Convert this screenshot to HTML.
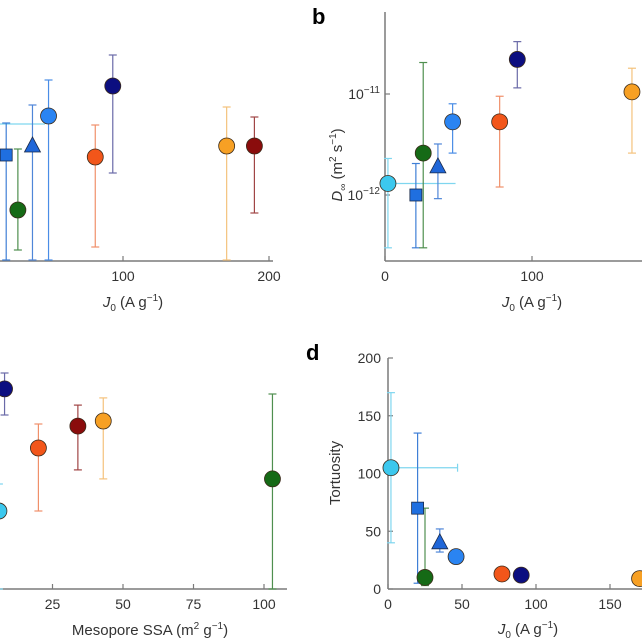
<!DOCTYPE html>
<html><head><meta charset="utf-8"><style>
html,body{margin:0;padding:0;background:#fff;}
svg{display:block;font-family:"Liberation Sans",sans-serif;}
.tk{font-size:14px;fill:#333;}
.lbl{font-size:15px;fill:#333;}
.pl{font-size:22px;font-weight:bold;fill:#000;}
</style></head><body>
<svg id="fig" width="642" height="642" viewBox="0 0 642 642">
<text class="pl" x="312" y="24">b</text>
<text class="pl" x="306" y="360">d</text>
<text class="lbl" x="133" y="307" text-anchor="middle"><tspan font-style="italic">J</tspan><tspan font-size="10" dy="4">0</tspan><tspan dy="-4"> (A g</tspan><tspan font-size="10" dy="-6">−1</tspan><tspan dy="6">)</tspan></text>
<text class="lbl" x="532" y="307" text-anchor="middle"><tspan font-style="italic">J</tspan><tspan font-size="10" dy="4">0</tspan><tspan dy="-4"> (A g</tspan><tspan font-size="10" dy="-6">−1</tspan><tspan dy="6">)</tspan></text>
<text class="lbl" transform="translate(342,165) rotate(-90)" text-anchor="middle"><tspan font-style="italic">D</tspan><tspan font-size="10" dy="4">∞</tspan><tspan dy="-4"> (m</tspan><tspan font-size="10" dy="-6">2</tspan><tspan dy="6"> s</tspan><tspan font-size="10" dy="-6">−1</tspan><tspan dy="6">)</tspan></text>
<text class="lbl" x="150" y="635" text-anchor="middle">Mesopore SSA (m<tspan font-size="10" dy="-6">2</tspan><tspan dy="6"> g</tspan><tspan font-size="10" dy="-6">−1</tspan><tspan dy="6">)</tspan></text>
<text class="lbl" transform="translate(340,473) rotate(-90)" text-anchor="middle">Tortuosity</text>
<text class="lbl" x="528" y="634" text-anchor="middle"><tspan font-style="italic">J</tspan><tspan font-size="10" dy="4">0</tspan><tspan dy="-4"> (A g</tspan><tspan font-size="10" dy="-6">−1</tspan><tspan dy="6">)</tspan></text>
</svg>
<script>
// Panel a (J0 vs unlabeled y, linear in relative units)
const aX=[20,28,38,49,81,93,171,190];
const aY=[53,25.5,57.5,72.5,52,87.5,57.5,57.5];
const aLo=[0.5,5.5,0.5,0.5,7,44,0.5,24];
const aHi=[69,56,78,90.5,68,103,77,72];
const aShape=['square','circle','triangle','circle','circle','circle','circle','circle'];
const aCol=[1,4,2,3,5,6,7,8];
const aXTicks=[100,200];
// Panel b (J0 vs D, log)
const bX=[2,21,26,36,46,78,90,168];
const bY=[1.3e-12,1.0e-12,2.6e-12,1.9e-12,5.3e-12,5.3e-12,2.2e-11,1.05e-11];
const bLo=[3e-13,3e-13,3e-13,0.92e-12,2.6e-12,1.2e-12,1.15e-11,2.6e-12];
const bHi=[2.3e-12,2.05e-12,2.05e-11,3.2e-12,8e-12,9.5e-12,3.3e-11,1.8e-11];
const bXErr=[48,0,0,0,0,0,0,0];
const bShape=['circle','square','circle','triangle','circle','circle','circle','circle'];
const bCol=[0,1,4,2,3,5,6,7];
const bXTicks=[0,100];
const bYTicks=[-12,-11];
// Panel c (Mesopore SSA vs y)
const cX=[8,6,20,34,43,103];
const cY=[66.7,26,47,54.3,56,36.7];
const cLo=[58,0,26,39.7,36.7,0];
const cHi=[72,35,55,61.3,63.7,65];
const cCol=[6,0,5,8,7,4];
const cXTicks=[25,50,75,100];
// Panel d (J0 vs tortuosity)
const dX=[2,20,25,35,46,77,90,170];
const dY=[105,70,10,40,28,13,12,9];
const dLo=[40,5,3,32,28,13,12,9];
const dHi=[170,135,70,52,28,13,12,9];
const dXErr=[47,0,0,0,0,0,0,0];
const dShape=['circle','square','circle','triangle','circle','circle','circle','circle'];
const dCol=[0,1,4,2,3,5,6,7];
const dXTicks=[0,50,100,150];
const dYTicks=[0,50,100,150,200];

const fill=['#3cc8ee','#1f6fe0','#1f66d8','#2a84f2','#156a16','#f2561a','#0c0e80','#f7a024','#8a0c0c'];
const err=['#7fd6ef','#3f7fd6','#4f86d8','#4a8de6','#4f8f4f','#f0906a','#6a6aa8','#f4c27c','#a04545'];
const svg=document.getElementById('fig');
const NS='http://www.w3.org/2000/svg';
function mk(tag,attrs,name,parent){const e=document.createElementNS(NS,tag);for(const k in attrs)e.setAttribute(k,attrs[k]);


(parent||svg).appendChild(e);return e;}
function line(x1,y1,x2,y2,c,name,w){return mk('line',{x1,y1,x2,y2,stroke:c,'stroke-width':w||1.2},name);}
function marker(shape,x,y,ci,name){
 if(shape==='circle')mk('circle',{cx:x,cy:y,r:8,fill:fill[ci],stroke:'#3a2a1a','stroke-width':0.8},name);
 else if(shape==='square')mk('rect',{x:x-6,y:y-6,width:12,height:12,fill:fill[ci],stroke:'#1a2a4a','stroke-width':0.8},name);
 else mk('polygon',{points:`${x},${y-9} ${x+8},${y+6} ${x-8},${y+6}`,fill:fill[ci],stroke:'#1a2a4a','stroke-width':0.8},name);
}
function ebar(x,y1,y2,c,name){if(Math.abs(y2-y1)<2)return;line(x,y1,x,y2,c,name);line(x-4,y1,x+4,y1,c,name+'-cap');line(x-4,y2,x+4,y2,c,name+'-cap');}
const AX='#7a7a7a';
// Panel a
const axA=v=>-23+v*1.46, ayA=v=>261-v*2;
line(0,261,273,261,AX,'panel-a-x-axis',1.5);
aXTicks.forEach(t=>{line(axA(t),256,axA(t),261,AX,'panel-a-x-tick');const tx=mk('text',{x:axA(t),y:281,'text-anchor':'middle',class:'tk'},'panel-a-x-tick-label');tx.textContent=t;});
line(0,124,45,124,err[0],'panel-a-cyan-x-errorbar');
aX.forEach((v,i)=>{ebar(axA(v),ayA(aLo[i]),ayA(aHi[i]),err[aCol[i]],'panel-a-errorbar');});
aX.forEach((v,i)=>marker(aShape[i],axA(v),ayA(aY[i]),aCol[i],'panel-a-point'));
// Panel b
const axB=v=>385+v*1.47, ayB=v=>195-(Math.log10(v)+12)*101;
line(385,12,385,261,AX,'panel-b-y-axis',1.5);line(385,261,642,261,AX,'panel-b-x-axis',1.5);
bXTicks.forEach(t=>{line(axB(t),256,axB(t),261,AX,'panel-b-x-tick');const tx=mk('text',{x:axB(t),y:281,'text-anchor':'middle',class:'tk'},'panel-b-x-tick-label');tx.textContent=t;});
bYTicks.forEach(t=>{const y=195-(t+12)*101;line(385,y,390,y,AX,'panel-b-y-tick');const tx=mk('text',{x:380,y:y+5,'text-anchor':'end',class:'tk'},'panel-b-y-tick-label');tx.textContent='10';const s=document.createElementNS(NS,'tspan');s.setAttribute('font-size','10');s.setAttribute('dy','-6');s.textContent='−'+Math.abs(t);tx.appendChild(s);});
bX.forEach((v,i)=>{if(bXErr[i])line(axB(v),ayB(bY[i]),axB(bXErr[i]),ayB(bY[i]),err[bCol[i]],'panel-b-x-errorbar');ebar(axB(v),Math.min(261,ayB(bLo[i])),ayB(bHi[i]),err[bCol[i]],'panel-b-errorbar');});
bX.forEach((v,i)=>marker(bShape[i],axB(v),ayB(bY[i]),bCol[i],'panel-b-point'));
// Panel c
const axC=v=>-18+v*2.82, ayC=v=>589-v*3;
line(0,589,287,589,AX,'panel-c-x-axis',1.5);
cXTicks.forEach(t=>{line(axC(t),584,axC(t),589,AX,'panel-c-x-tick');const tx=mk('text',{x:axC(t),y:609,'text-anchor':'middle',class:'tk'},'panel-c-x-tick-label');tx.textContent=t;});
cX.forEach((v,i)=>{if(cHi[i]>cY[i])ebar(axC(v),ayC(cLo[i]),ayC(cHi[i]),err[cCol[i]],'panel-c-errorbar');});
cX.forEach((v,i)=>marker('circle',axC(v),ayC(cY[i]),cCol[i],'panel-c-point'));
// Panel d
const axD=v=>388+v*1.48, ayD=v=>589-v*1.155;
line(388,358,388,589,AX,'panel-d-y-axis',1.5);line(388,589,642,589,AX,'panel-d-x-axis',1.5);
dXTicks.forEach(t=>{line(axD(t),584,axD(t),589,AX,'panel-d-x-tick');const tx=mk('text',{x:axD(t),y:609,'text-anchor':'middle',class:'tk'},'panel-d-x-tick-label');tx.textContent=t;});
dYTicks.forEach(t=>{line(388,ayD(t),393,ayD(t),AX,'panel-d-y-tick');const tx=mk('text',{x:381,y:ayD(t)+5,'text-anchor':'end',class:'tk'},'panel-d-y-tick-label');tx.textContent=t;});
function ebar2(i){const y=ayD(dY[i]),x1=axD(dX[i]),x2=axD(dXErr[i]);line(x1,y,x2,y,err[dCol[i]],'panel-d-x-errorbar');line(x2,y-4,x2,y+4,err[dCol[i]],'panel-d-x-errorbar-cap');}
dX.forEach((v,i)=>{if(dXErr[i])ebar2(i);ebar(axD(v),ayD(dLo[i]),ayD(dHi[i]),err[dCol[i]],'panel-d-errorbar');});
dX.forEach((v,i)=>marker(dShape[i],axD(v),ayD(dY[i]),dCol[i],'panel-d-point'));
</script>
</body></html>
